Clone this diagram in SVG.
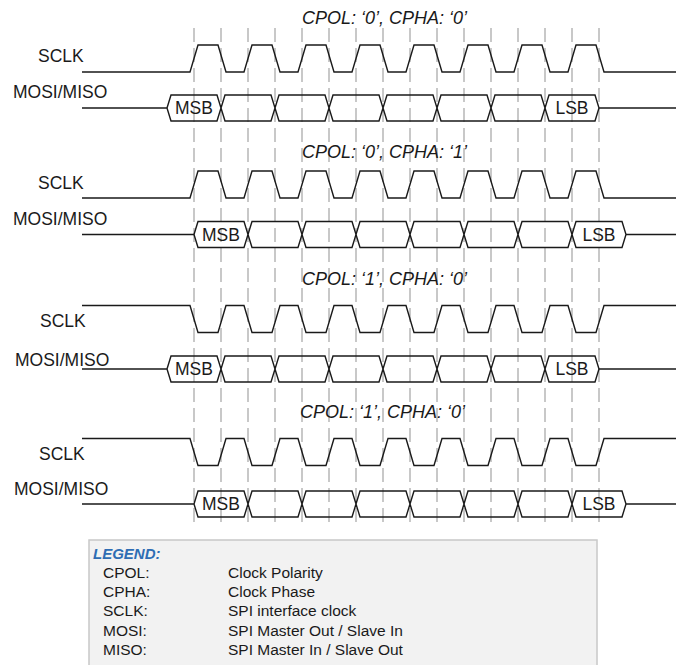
<svg xmlns="http://www.w3.org/2000/svg" width="676" height="665" viewBox="0 0 676 665">
<style>
  .lbl{font-family:"Liberation Sans",Arial,sans-serif;font-size:17.5px;fill:#1a1a1a}
  .ttl{font-family:"Liberation Sans",Arial,sans-serif;font-size:18px;font-style:italic;fill:#1a1a1a}
  .bit{font-family:"Liberation Sans",Arial,sans-serif;font-size:17.5px;fill:#1a1a1a;text-anchor:middle}
  .wave{fill:none;stroke:#1a1a1a;stroke-width:1.4;stroke-linejoin:miter}
  .grid{stroke:#c8c8c8;stroke-width:2;stroke-dasharray:14 6}
  .lg{font-family:"Liberation Sans",Arial,sans-serif;font-size:15.5px;fill:#1a1a1a}
  .lgh{font-family:"Liberation Sans",Arial,sans-serif;font-size:15px;font-weight:bold;font-style:italic;fill:#2e6db4}
</style>
<defs>
  <path id="clk0" class="wave" d="M82,0 H190 L198,-27 H218 L226,0 H244 L252,-27 H272 L280,0 H298 L306,-27 H326 L334,0 H352 L360,-27 H380 L388,0 H406 L414,-27 H434 L442,0 H460 L468,-27 H488 L496,0 H514 L522,-27 H542 L550,0 H568 L576,-27 H596 L604,0 H676"/>
  <path id="clk1" class="wave" d="M82,0 H190 L198,27 H218 L226,0 H244 L252,27 H272 L280,0 H298 L306,27 H326 L334,0 H352 L360,27 H380 L388,0 H406 L414,27 H434 L442,0 H460 L468,27 H488 L496,0 H514 L522,27 H542 L550,0 H568 L576,27 H596 L604,0 H676"/>
  <path id="busA" class="wave" d="M82,0 H167 M167,0 L171,-13 H217 L221,0 L217,13 H171 Z M221,0 L225,-13 H271 L275,0 L271,13 H225 Z M275,0 L279,-13 H325 L329,0 L325,13 H279 Z M329,0 L333,-13 H379 L383,0 L379,13 H333 Z M383,0 L387,-13 H433 L437,0 L433,13 H387 Z M437,0 L441,-13 H487 L491,0 L487,13 H441 Z M491,0 L495,-13 H541 L545,0 L541,13 H495 Z M545,0 L549,-13 H595 L599,0 L595,13 H549 Z M599,0 H676"/>
  <path id="busB" class="wave" d="M82,0 H194 M194,0 L198,-13 H244 L248,0 L244,13 H198 Z M248,0 L252,-13 H298 L302,0 L298,13 H252 Z M302,0 L306,-13 H352 L356,0 L352,13 H306 Z M356,0 L360,-13 H406 L410,0 L406,13 H360 Z M410,0 L414,-13 H460 L464,0 L460,13 H414 Z M464,0 L468,-13 H514 L518,0 L514,13 H468 Z M518,0 L522,-13 H568 L572,0 L568,13 H522 Z M572,0 L576,-13 H622 L626,0 L622,13 H576 Z M626,0 H676"/>
</defs>

<g id="gridlines">
  <line class="grid" x1="194" y1="28" x2="194" y2="525"/>
  <line class="grid" x1="221" y1="28" x2="221" y2="525"/>
  <line class="grid" x1="248" y1="28" x2="248" y2="525"/>
  <line class="grid" x1="275" y1="28" x2="275" y2="525"/>
  <line class="grid" x1="302" y1="28" x2="302" y2="525"/>
  <line class="grid" x1="329" y1="28" x2="329" y2="525"/>
  <line class="grid" x1="356" y1="28" x2="356" y2="525"/>
  <line class="grid" x1="383" y1="28" x2="383" y2="525"/>
  <line class="grid" x1="410" y1="28" x2="410" y2="525"/>
  <line class="grid" x1="437" y1="28" x2="437" y2="525"/>
  <line class="grid" x1="464" y1="28" x2="464" y2="525"/>
  <line class="grid" x1="491" y1="28" x2="491" y2="525"/>
  <line class="grid" x1="518" y1="28" x2="518" y2="525"/>
  <line class="grid" x1="545" y1="28" x2="545" y2="525"/>
  <line class="grid" x1="572" y1="28" x2="572" y2="525"/>
  <line class="grid" x1="599" y1="28" x2="599" y2="525"/>
</g>

<g id="mode00">
  <text class="ttl" x="302" y="24">CPOL: ‘0’, CPHA: ‘0’</text>
  <text class="lbl" x="38" y="62">SCLK</text>
  <text class="lbl" x="13" y="98">MOSI/MISO</text>
  <use href="#clk0" y="72"/>
  <use href="#busA" y="108"/>
  <text class="bit" x="194" y="114.3">MSB</text>
  <text class="bit" x="572" y="114.3">LSB</text>
</g>

<g id="mode01">
  <text class="ttl" x="302" y="158">CPOL: ‘0’, CPHA: ‘1’</text>
  <text class="lbl" x="38" y="188.5">SCLK</text>
  <text class="lbl" x="13" y="225">MOSI/MISO</text>
  <use href="#clk0" y="198"/>
  <use href="#busB" y="234.5"/>
  <text class="bit" x="221" y="240.8">MSB</text>
  <text class="bit" x="599" y="240.8">LSB</text>
</g>

<g id="mode10">
  <text class="ttl" x="302" y="285">CPOL: ‘1’, CPHA: ‘0’</text>
  <text class="lbl" x="40" y="327">SCLK</text>
  <text class="lbl" x="15" y="366">MOSI/MISO</text>
  <use href="#clk1" y="305.5"/>
  <use href="#busA" y="369"/>
  <text class="bit" x="194" y="375.3">MSB</text>
  <text class="bit" x="572" y="375.3">LSB</text>
</g>

<g id="mode11">
  <text class="ttl" x="300" y="418">CPOL: ‘1’, CPHA: ‘0’</text>
  <text class="lbl" x="39" y="460">SCLK</text>
  <text class="lbl" x="14" y="495">MOSI/MISO</text>
  <use href="#clk1" y="438.5"/>
  <use href="#busB" y="504"/>
  <text class="bit" x="221" y="510.3">MSB</text>
  <text class="bit" x="599" y="510.3">LSB</text>
</g>

<g id="legend">
  <rect x="89" y="540" width="508" height="130" fill="#f2f2f2" stroke="#c8c8c8" stroke-width="1.5"/>
  <text class="lgh" x="93" y="559">LEGEND:</text>
  <text class="lg" x="103" y="578">CPOL:</text>
  <text class="lg" x="228" y="578">Clock Polarity</text>
  <text class="lg" x="103" y="597">CPHA:</text>
  <text class="lg" x="228" y="597">Clock Phase</text>
  <text class="lg" x="103" y="616">SCLK:</text>
  <text class="lg" x="228" y="616">SPI interface clock</text>
  <text class="lg" x="103" y="635.5">MOSI:</text>
  <text class="lg" x="228" y="635.5">SPI Master Out / Slave In</text>
  <text class="lg" x="103" y="655">MISO:</text>
  <text class="lg" x="228" y="655">SPI Master In / Slave Out</text>
</g>
</svg>
